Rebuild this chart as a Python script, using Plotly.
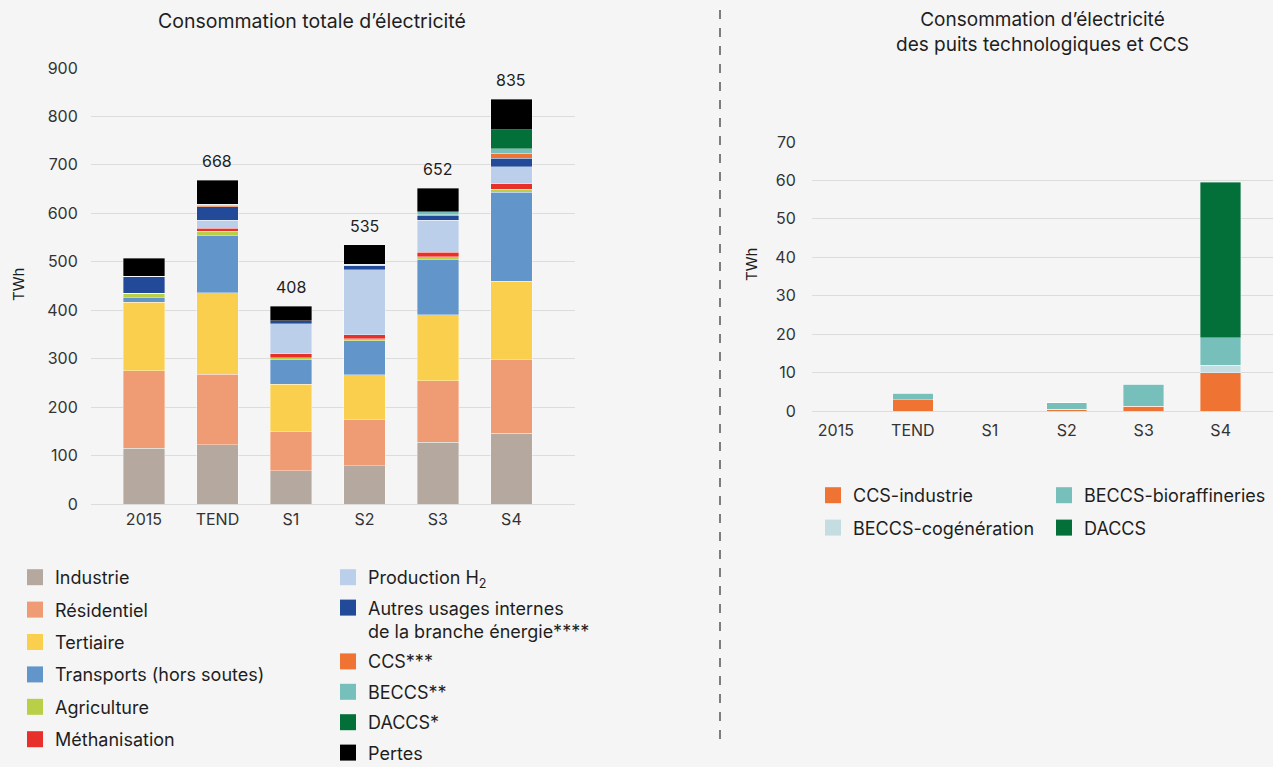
import plotly.graph_objects as go

# ---------------- Data ----------------
categories = ["2015", "TEND", "S1", "S2", "S3", "S4"]

industrie = [115, 122, 69, 79, 127, 146]
residentiel = [160, 146, 80, 95, 127, 153]
tertiaire = [141, 168, 98, 93, 137, 161]
transports = [11, 119, 52, 70, 114, 184]
agriculture = [8, 8, 3, 4, 5, 6]
methanisation = [0, 6, 8, 8, 10, 11]
production_h2 = [0, 17, 62, 135, 66, 35]
autres_usages = [35, 28, 6, 9, 10, 18]
ccs = [0, 3, 0, 0, 1, 10]
beccs = [0, 2, 0, 2, 6, 9]
daccs = [0, 0, 0, 0, 0, 40]
pertes = [37, 49, 30, 40, 49, 62]

ccs_industrie = [0, 2.9, 0, 0.4, 1.2, 10.0]
beccs_cogeneration = [0, 0, 0, 0, 0, 1.9]
beccs_bioraffineries = [0, 1.7, 0, 1.7, 5.8, 7.1]
daccs_puits = [0, 0, 0, 0, 0, 40.5]

left_series = [
    ("Industrie", industrie, "#b5a99f"),
    ("Résidentiel", residentiel, "#ef9b74"),
    ("Tertiaire", tertiaire, "#f9cf4d"),
    ("Transports (hors soutes)", transports, "#6295c9"),
    ("Agriculture", agriculture, "#b8cf47"),
    ("Méthanisation", methanisation, "#e8302b"),
    ("Production H<sub>2</sub>", production_h2, "#bccfea"),
    ("Autres usages internes<br>de la branche énergie****", autres_usages, "#234a99"),
    ("CCS***", ccs, "#ef7433"),
    ("BECCS**", beccs, "#76bfbb"),
    ("DACCS*", daccs, "#03703a"),
    ("Pertes", pertes, "#000000"),
]

right_series = [
    ("CCS-industrie", ccs_industrie, "#ef7433"),
    ("BECCS-cogénération", beccs_cogeneration, "#c5dde0"),
    ("BECCS-bioraffineries", beccs_bioraffineries, "#76bfbb"),
    ("DACCS", daccs_puits, "#03703a"),
]

W, H = 1273, 767
FONT = "Inter, 'Open Sans', sans-serif"
TXT = "#1e1e1e"
GRID = "#dcdcdc"
BG = "#f5f5f5"


def px_x(p):
    return p / W


def px_y(p):
    return (H - p) / H


fig = go.Figure()

# Left stacked bars
for name, vals, col in left_series:
    fig.add_trace(go.Bar(
        x=categories, y=vals, name=name, marker_color=col,
        marker_line=dict(width=0.6, color="rgba(255,255,255,0.6)"),
        width=0.565, xaxis="x", yaxis="y", showlegend=False,
        hoverinfo="name+y",
    ))

# Right stacked bars
for name, vals, col in right_series:
    fig.add_trace(go.Bar(
        x=categories, y=vals, name=name, marker_color=col,
        marker_line=dict(width=0.6, color="rgba(255,255,255,0.6)"),
        width=0.526, xaxis="x2", yaxis="y2", showlegend=False,
        hoverinfo="name+y",
    ))

# Legend entries (square markers)
left_legend_map = ["legend"] * 6 + ["legend2"] * 6
for (name, vals, col), lg in zip(left_series, left_legend_map):
    fig.add_trace(go.Scatter(
        x=[None], y=[None], mode="markers", name=name,
        marker=dict(symbol="square", size=16, color=col),
        legend=lg, legendgroup=name, xaxis="x", yaxis="y",
    ))

right_legend_map = {"CCS-industrie": "legend3", "BECCS-cogénération": "legend3",
                    "BECCS-bioraffineries": "legend4", "DACCS": "legend4"}
for name, vals, col in right_series:
    fig.add_trace(go.Scatter(
        x=[None], y=[None], mode="markers", name=name,
        marker=dict(symbol="square", size=16, color=col),
        legend=right_legend_map[name], legendgroup="r_" + name,
        xaxis="x2", yaxis="y2",
    ))

# Totals above left bars
totals = [sum(s[1][i] for s in left_series) for i in range(len(categories))]
annotations = []
for c, t in zip(categories, totals):
    annotations.append(dict(
        x=c, y=t, xref="x", yref="y", text=str(int(round(t))),
        showarrow=False, yanchor="bottom", yshift=7,
        font=dict(size=16, color=TXT, family=FONT),
    ))

# Titles
annotations += [
    dict(x=px_x(312), y=px_y(21), xref="paper", yref="paper",
         text="Consommation totale d’électricité", showarrow=False,
         font=dict(size=19.5, color=TXT, family=FONT), xanchor="center", yanchor="middle"),
    dict(x=px_x(1042), y=px_y(32), xref="paper", yref="paper",
         text="Consommation d’électricité<br>des puits technologiques et CCS", showarrow=False,
         font=dict(size=19, color=TXT, family=FONT), xanchor="center", yanchor="middle"),
    dict(x=px_x(18), y=px_y(285), xref="paper", yref="paper", text="TWh",
         showarrow=False, textangle=-90, font=dict(size=15, color=TXT, family=FONT),
         xanchor="center", yanchor="middle"),
    dict(x=px_x(752), y=px_y(265), xref="paper", yref="paper", text="TWh",
         showarrow=False, textangle=-90, font=dict(size=15, color=TXT, family=FONT),
         xanchor="center", yanchor="middle"),
]

axis_common = dict(showgrid=False, showline=False, zeroline=False,
                   tickfont=dict(size=16, color="#333333", family=FONT), fixedrange=True)

yaxis_common = dict(showgrid=True, gridcolor=GRID, gridwidth=1, zeroline=True,
                    zerolinecolor=GRID, zerolinewidth=1, showline=False,
                    ticks="outside", tickcolor="rgba(0,0,0,0)",
                    tickfont=dict(size=16, color="#333333", family=FONT), fixedrange=True)

legend_common = dict(font=dict(size=18, color=TXT, family=FONT), bgcolor="rgba(0,0,0,0)",
                     xanchor="left", yanchor="top", itemclick=False,
                     itemdoubleclick=False, orientation="v")

fig.update_layout(
    width=W, height=H,
    paper_bgcolor=BG, plot_bgcolor=BG,
    margin=dict(l=0, r=0, t=0, b=0, autoexpand=False),
    barmode="stack",
    font=dict(family=FONT, color=TXT),
    xaxis=dict(domain=[px_x(91), px_x(575)], range=[-0.72, 5.865], anchor="y",
               ticks="outside", ticklen=1, tickcolor="rgba(0,0,0,0)", **axis_common),
    yaxis=dict(domain=[px_y(504), px_y(68)], range=[0, 900], dtick=100, anchor="x",
               ticklen=9, **yaxis_common),
    xaxis2=dict(domain=[px_x(812), 1.0], range=[-0.31, 5.68], anchor="y2",
                ticks="outside", ticklen=5, tickcolor="rgba(0,0,0,0)", **axis_common),
    yaxis2=dict(domain=[px_y(411), px_y(142)], range=[0, 70], dtick=10, anchor="x2",
                ticklen=12, **yaxis_common),
    legend=dict(x=px_x(15), y=px_y(559), tracegroupgap=6, **legend_common),
    legend2=dict(x=px_x(328), y=px_y(559), valign="top", tracegroupgap=4, **legend_common),
    legend3=dict(x=px_x(813), y=px_y(477), tracegroupgap=6, **legend_common),
    legend4=dict(x=px_x(1044), y=px_y(477), tracegroupgap=6, **legend_common),
    annotations=annotations,
    shapes=[dict(type="line", xref="paper", yref="paper",
                 x0=px_x(720), x1=px_x(720), y0=px_y(10), y1=px_y(742),
                 line=dict(color="#555555", width=1.5, dash="dash"))],
    showlegend=True,
)

fig.write_html("out.html", config={"displayModeBar": False},
               post_script="document.body.style.margin='0px';document.body.style.overflow='hidden';")
